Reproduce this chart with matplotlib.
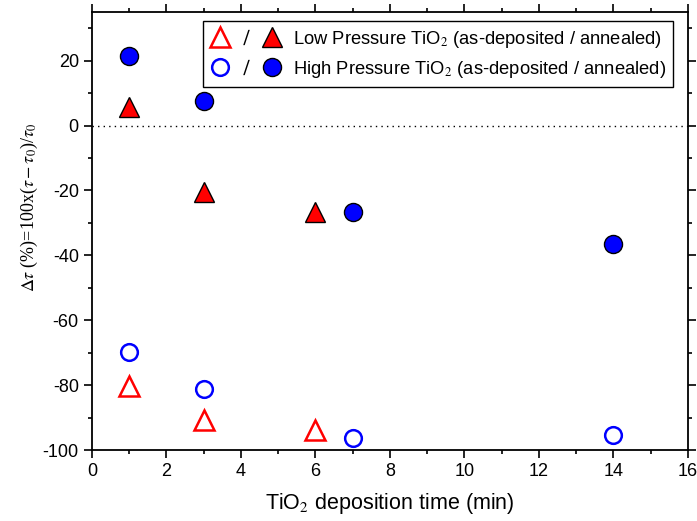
import matplotlib.pyplot as plt
from matplotlib.lines import Line2D
from matplotlib.legend_handler import HandlerTuple

plt.rcParams['font.family'] = ['Liberation Sans', 'DejaVu Sans']
plt.rcParams['mathtext.fontset'] = 'stix'
plt.rcParams['axes.unicode_minus'] = False

# Data
lp_time = [1, 3, 6]
lp_asdep = [-80.3, -90.6, -93.8]
lp_anneal = [5.8, -20.5, -26.5]

hp_time = [1, 3, 7, 14]
hp_asdep = [-69.7, -81.3, -96.4, -95.4]
hp_anneal = [21.5, 7.5, -26.7, -36.6]

fig = plt.figure(figsize=(6.97, 5.21), dpi=100)
ax = fig.add_axes([0.132, 0.136, 0.855, 0.841])

ax.axhline(0, color='black', ls=(0, (1, 3)), lw=1)

ax.plot(lp_time, lp_asdep, '^', ms=14, mfc='none', mec='red', mew=1.8, ls='none')
ax.plot(lp_time, lp_anneal, '^', ms=14, mfc='red', mec='black', mew=1, ls='none')
ax.plot(hp_time, hp_asdep, 'o', ms=12, mfc='none', mec='blue', mew=1.8, ls='none')
ax.plot(hp_time, hp_anneal, 'o', ms=13, mfc='blue', mec='black', mew=1, ls='none')

ax.set_xlim(0, 16)
ax.set_ylim(-100, 35)
ax.set_xticks(range(0, 17, 2))
ax.set_xticks(range(0, 17, 1), minor=True)
ax.set_yticks(range(-100, 21, 20))
ax.set_yticks(range(-100, 31, 10), minor=True)
ax.tick_params(which='both', direction='out', top=True, right=True,
               labelsize=13, width=1.2)
ax.tick_params(which='major', length=6)
ax.tick_params(which='minor', length=3)
for s in ax.spines.values():
    s.set_linewidth(1.3)

ax.set_xlabel('TiO$_2$ deposition time (min)', fontsize=15.5, labelpad=8)
ax.set_ylabel(r'$\Delta\tau$ (%)=100x($\tau-\tau_0$)/$\tau_0$',
              fontsize=13, family='Liberation Serif')
ax.yaxis.set_label_coords(-0.088, 0.554)

slash = Line2D([], [], ls='none', marker='$/$', ms=11, color='black', mew=0)
h_lp = (Line2D([], [], ls='none', marker='^', ms=14, mfc='none', mec='red', mew=1.8),
        slash,
        Line2D([], [], ls='none', marker='^', ms=14, mfc='red', mec='black', mew=1))
h_hp = (Line2D([], [], ls='none', marker='o', ms=12, mfc='none', mec='blue', mew=1.8),
        slash,
        Line2D([], [], ls='none', marker='o', ms=13, mfc='blue', mec='black', mew=1))
leg = ax.legend([h_lp, h_hp],
                ['Low Pressure TiO$_2$ (as-deposited / annealed)',
                 'High Pressure TiO$_2$ (as-deposited / annealed)'],
                handler_map={tuple: HandlerTuple(ndivide=None, pad=0.3)},
                loc='upper right', bbox_to_anchor=(0.975, 0.979), borderaxespad=0,
                fontsize=13.2, handlelength=3.9, handletextpad=0.6,
                fancybox=False, edgecolor='black', framealpha=1,
                borderpad=0.4, labelspacing=0.5)
leg.get_frame().set_linewidth(1)

fig.savefig('out.png', dpi=100)
